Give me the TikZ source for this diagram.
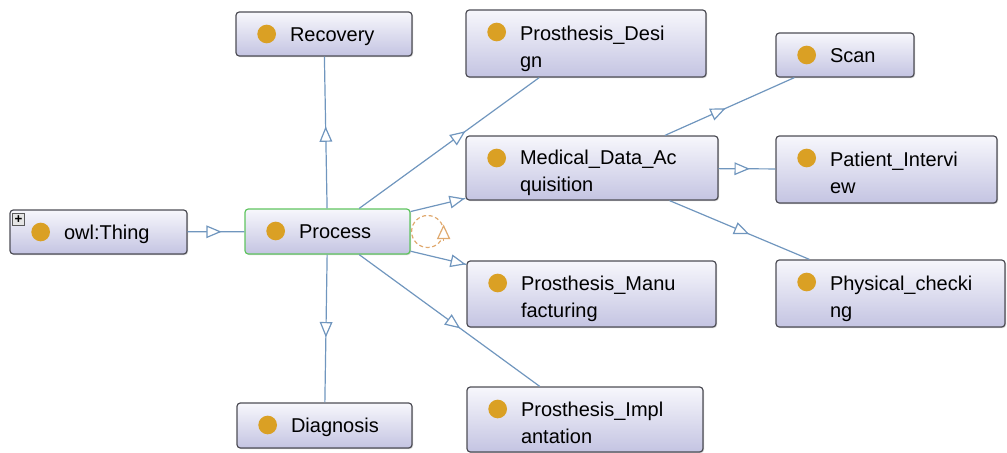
\documentclass[tikz,border=0pt]{standalone}
\usepackage{fontspec}
\setmainfont{Liberation Sans}
\usepackage{tikz}
\usetikzlibrary{arrows.meta,decorations.markings,shadows}
\definecolor{ClsTop}{RGB}{247,247,252}
\definecolor{ClsBot}{RGB}{196,196,226}
\definecolor{ClsLine}{RGB}{78,78,86}
\definecolor{ClsDot}{RGB}{218,160,36}
\definecolor{IsaBlue}{RGB}{112,150,190}
\definecolor{SelGreen}{RGB}{96,196,96}
\definecolor{LoopOrange}{RGB}{224,170,112}
\newcommand\clsname[2][1.5pt]{\hspace*{40.5pt}\raisebox{-#1}[\height][\depth]{\begin{tabular}{@{}l@{}}#2\end{tabular}}}

\begin{document}
\begin{tikzpicture}[
x=0.75pt,y=-0.75pt,
cls/.style 2 args={rectangle,rounded corners=2.5pt,draw=ClsLine,line width=0.9pt,top color=ClsTop,bottom color=ClsBot,inner xsep=0pt,inner ysep=0pt,text width=#1,minimum height=#2,align=left,font=\fontsize{15}{20.25}\selectfont,drop shadow={shadow xshift=0.8pt,shadow yshift=-0.8pt,fill=black!30,opacity=0.6},path picture={\fill[ClsDot] ([xshift=23pt,yshift=-16.5pt]path picture bounding box.north west) circle (7pt);}},
sel/.style={draw=SelGreen},
expbox/.style={rectangle,draw=black!65,fill=black!10,line width=0.6pt,minimum size=9pt,inner sep=0pt,font=\fontsize{10}{10}\selectfont\bfseries},
isa/.style={draw=IsaBlue,line width=0.9pt,postaction=decorate,decoration={markings,mark=at position #1 with {\arrow{Triangle[length=11.5pt,width=9.5pt,fill=white]}}}},
loopedge/.style={draw=LoopOrange,line width=0.9pt,dash pattern=on 3pt off 2pt},
looptip/.style={draw=LoopOrange,line width=0.9pt,-{Triangle[length=11pt,width=10pt,fill=white]}}
]
\useasboundingbox (0,0) rectangle (1007,453);
% classes
\node[cls={132.75pt}{33pt}] (thing) at (98.5,232) {\clsname{owl:Thing}};
\node[expbox] (thingplus) at ([shift={(6.75pt,-7.5pt)}]thing.north west) {+};
\node[cls={123.75pt}{33.75pt},sel] (proc) at (327.5,231.5) {\clsname{Process}};
\node[cls={132pt}{33pt}] (rec) at (324,34) {\clsname{Recovery}};
\node[cls={131.25pt}{33.75pt}] (diag) at (324.5,425.5) {\clsname{Diagnosis}};
\node[cls={180pt}{50.25pt}] (pdes) at (586,43.5) {\clsname[3.75pt]{Prosthesis\_Desi\\gn}};
\node[cls={189pt}{48pt}] (mda) at (592,168) {\clsname[3.75pt]{Medical\_Data\_Ac\\quisition}};
\node[cls={186.75pt}{49.5pt}] (pman) at (591.5,294) {\clsname[3.75pt]{Prosthesis\_Manu\\facturing}};
\node[cls={177pt}{48.75pt}] (pimp) at (585,419.5) {\clsname[3.75pt]{Prosthesis\_Impl\\antation}};
\node[cls={103.5pt}{33pt}] (scan) at (845,55) {\clsname{Scan}};
\node[cls={165.75pt}{50.25pt}] (pint) at (886.5,169.5) {\clsname[3.75pt]{Patient\_Intervi\\ew}};
\node[cls={171.75pt}{50.25pt}] (phys) at (890.5,293.5) {\clsname[3.75pt]{Physical\_checki\\ng}};
% subclass links
\draw[isa=0.6] (thing) -- (proc);
\draw[isa=0.54] (proc) -- (rec);
\draw[isa=0.56] (proc) -- (diag);
\draw[isa=0.59] (proc) -- (pdes);
\draw[isa=0.99] (proc) -- (mda);
\draw[isa=0.99] (proc) -- (pman);
\draw[isa=0.56] (proc) -- (pimp);
\draw[isa=0.47] (mda) -- (scan);
\draw[isa=0.55] (mda) -- (pint);
\draw[isa=0.57] (mda) -- (phys);
% self loop
\coordinate (loopc) at ([xshift=12.75pt]proc.east);
\draw[loopedge] (loopc) circle (12pt);
\draw[looptip] ([xshift=12pt,yshift=-7pt]loopc) -- ([xshift=12pt,yshift=5.25pt]loopc);
\end{tikzpicture}
\end{document}
